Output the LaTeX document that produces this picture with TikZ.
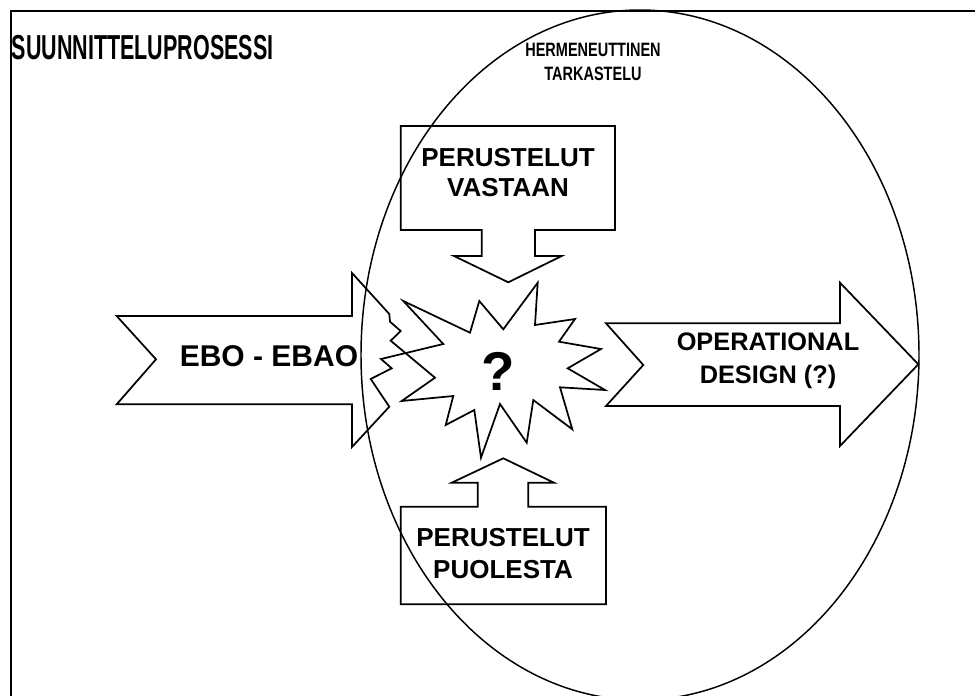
\documentclass[tikz,border=0pt]{standalone}
\usepackage{fontspec}
\setmainfont{Liberation Sans}
\usepackage{tikz}

\begin{document}
\begin{tikzpicture}[x=0.75pt, y=-0.75pt, line width=1.3pt, line join=miter,
    every node/.style={inner sep=0pt, align=center}]
    \useasboundingbox (0,0) rectangle (975,696);
    \draw[line width=1.6pt] (11,696) -- (11,11) -- (975,11);
    \node[anchor=base west, font={\fontsize{26}{30}\selectfont\bfseries}] (title) at (11,60) {\scalebox{0.62}[1]{SUUNNITTELUPROSESSI}};
    \node[font={\fontsize{14.5}{18}\selectfont\bfseries}] (herm) at (593,61.5) {\scalebox{0.75}[1]{HERMENEUTTINEN}\\\scalebox{0.75}[1]{TARKASTELU}};
    \draw (403.3,301) -- (443.3,344) -- (381,359) -- (391.7,368.3) -- (370.7,379) -- (389.3,406.7)
        -- (352,447) -- (352,404.3) -- (116.7,404.3) -- (156,359.3) -- (116.7,316) -- (352,316)
        -- (352,273) -- (389.3,314) -- (390,321.7) -- (400.7,331) -- (390.7,340.7) -- (435,377.7)
        -- (401.7,401) -- (453.3,396) -- (445.7,425) -- (474.3,410) -- (481,457.7) -- (500,404)
        -- (526.7,442.7) -- (533.3,400) -- (572.3,429.3) -- (560,387.3) -- (605,390) -- (567.7,368.3)
        -- (601,349) -- (559,341.7) -- (575,319) -- (535,325) -- (537.7,282.7) -- (503.3,329.3)
        -- (479.3,301) -- (470,332.7) -- cycle;
    \draw (606,323.3) -- (840,323.3) -- (840,282.7) -- (918.3,364.3) -- (840,446) -- (840,406)
        -- (606,406) -- (643.3,365) -- cycle;
    \draw (400.7,126) -- (615,126) -- (615,230) -- (535,230) -- (535,256) -- (561.7,256)
        -- (508.3,282.3) -- (454,256) -- (481.7,256) -- (481.7,230) -- (400.7,230) -- cycle;
    \draw (400.7,604.3) -- (606,604.3) -- (606,506.7) -- (528.3,506.7) -- (528.3,482.7) -- (554,482.7)
        -- (503.3,458.3) -- (451.7,482.7) -- (477.7,482.7) -- (477.7,506.7) -- (400.7,506.7) -- cycle;
    \draw[line width=1.1pt] (640,355) ellipse [x radius=279, y radius=345];
    \node[anchor=base, font={\fontsize{22.5}{26}\selectfont\bfseries}] (ebo) at (269,366.7) {EBO - EBAO};
    \node[font={\fontsize{19}{25}\selectfont\bfseries}] (opdesign) at (768,361) {OPERATIONAL\\DESIGN (?)};
    \node[font={\fontsize{19.5}{22.7}\selectfont\bfseries}] (vastaan) at (508,172.5) {PERUSTELUT\\VASTAAN};
    \node[font={\fontsize{19.5}{24.5}\selectfont\bfseries}] (puolesta) at (503,553.5) {PERUSTELUT\\PUOLESTA};
    \node[anchor=base, font={\fontsize{41}{44}\selectfont\bfseries}] (kysymys) at (498,390) {?};
\end{tikzpicture}
\end{document}
